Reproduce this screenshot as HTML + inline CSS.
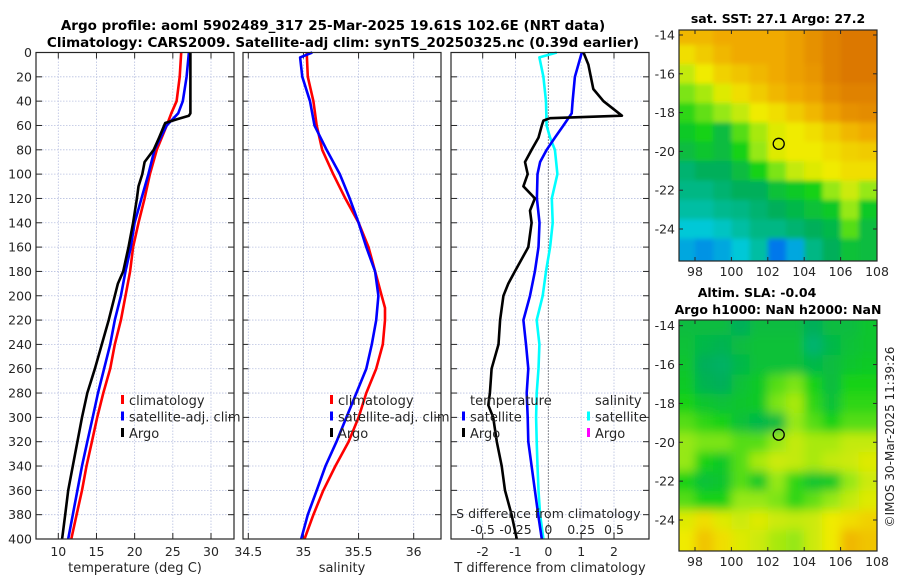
<!DOCTYPE html>
<html><head><meta charset="utf-8"><style>
html,body{margin:0;padding:0;background:#fff}
svg text{font-family:"DejaVu Sans","Liberation Sans",sans-serif;fill:#262626}
</style></head><body>
<svg id="fig" width="900" height="580" viewBox="0 0 900 580" xmlns="http://www.w3.org/2000/svg">
<defs>
<filter id="blurA" x="-5%" y="-5%" width="110%" height="110%"><feGaussianBlur stdDeviation="2.5"/></filter>
<filter id="blurB" x="-5%" y="-5%" width="110%" height="110%"><feGaussianBlur stdDeviation="5"/></filter>
</defs>
<text x="333" y="30" font-size="13.5" font-weight="bold" text-anchor="middle" style="fill:#000">Argo profile: aoml 5902489_317 25-Mar-2025 19.61S 102.6E (NRT data)</text>
<text x="343" y="47" font-size="13.5" font-weight="bold" text-anchor="middle" style="fill:#000">Climatology: CARS2009. Satellite-adj clim: synTS_20250325.nc (0.39d earlier)</text>
<text x="778" y="23" font-size="12.5" font-weight="bold" text-anchor="middle" style="fill:#000">sat. SST: 27.1 Argo: 27.2</text>
<text x="757" y="297" font-size="12.5" font-weight="bold" text-anchor="middle" style="fill:#000">Altim. SLA: -0.04</text>
<text x="778" y="314" font-size="12.5" font-weight="bold" text-anchor="middle" style="fill:#000">Argo h1000: NaN h2000: NaN</text>
<text x="0" y="0" font-size="12" text-anchor="middle" transform="translate(894,437) rotate(-90)">©IMOS 30-Mar-2025 11:39:26</text>
<g id="plots"></g>
</svg>
<script>
// ---- data ----
const depthT = [0,20,40,50,60,80,100,120,140,160,180,200,220,240,260,280,300,320,340,360,380,400];
const tempClim = [26.1,25.9,25.5,24.8,24.2,22.9,22.0,21.3,20.5,19.8,19.4,18.8,18.2,17.4,16.8,15.9,15.1,14.4,13.7,13.1,12.4,11.7];
const tempSat = [27.1,26.8,26.3,25.7,24.2,22.6,21.8,20.9,20.0,19.5,18.8,18.2,17.4,16.8,16.0,15.2,14.5,13.8,13.1,12.5,11.9,11.3];
const depthArgo = [0,50,52,55,58,70,80,90,100,110,120,140,160,180,190,200,220,240,260,280,300,320,340,360,380,400];
const tempArgo = [27.3,27.3,27.1,25.5,24.0,23.2,22.5,21.3,21.0,20.5,20.3,19.8,19.2,18.5,17.8,17.4,16.6,15.7,14.8,13.8,13.1,12.5,11.9,11.3,10.9,10.5];
const depthS = [0,20,40,60,80,100,120,140,160,180,200,210,220,240,260,280,300,320,340,360,380,400];
const salClim = [35.03,35.04,35.09,35.12,35.17,35.27,35.38,35.50,35.59,35.65,35.71,35.74,35.74,35.72,35.66,35.57,35.50,35.41,35.29,35.18,35.09,35.01];
const depthSS = [0,4,20,40,60,80,100,120,140,160,180,200,220,240,260,280,300,320,340,360,380,400];
const salSat = [35.08,34.97,34.99,35.06,35.10,35.21,35.33,35.42,35.50,35.57,35.65,35.68,35.66,35.62,35.57,35.48,35.39,35.30,35.20,35.12,35.04,34.98];
const depthD = [0,20,40,50,60,70,80,90,100,120,140,160,180,200,220,240,260,280,300,320,340,360,380,400];
const tDiffSat = [1.02,0.81,0.74,0.71,0.46,0.2,-0.05,-0.25,-0.33,-0.35,-0.27,-0.3,-0.41,-0.56,-0.76,-0.68,-0.61,-0.66,-0.63,-0.61,-0.51,-0.41,-0.31,-0.2];
const depthDS = [0,4,20,40,60,70,80,100,120,140,160,180,200,220,240,260,280,300,320,340,360,380,400];
const sDiffSat = [0.064,-0.068,-0.038,-0.018,-0.013,0.013,0.05,0.069,0.026,0.033,0.013,-0.018,-0.043,-0.089,-0.068,-0.075,-0.089,-0.093,-0.089,-0.083,-0.075,-0.063,-0.038];
const depthDA = [0,10,30,40,52,54,56,60,70,80,90,100,110,120,130,140,160,180,190,200,220,240,260,280,290,300,320,340,360,380,400];
const tDiffArgo = [1.07,1.22,1.37,1.68,2.24,0.05,-0.15,-0.2,-0.3,-0.51,-0.71,-0.63,-0.76,-0.41,-0.56,-0.51,-0.61,-1.02,-1.22,-1.37,-1.47,-1.52,-1.73,-1.78,-1.83,-1.68,-1.57,-1.42,-1.32,-1.12,-0.96];
const depthTicks = [0,20,40,60,80,100,120,140,160,180,200,220,240,260,280,300,320,340,360,380,400];
const tempTicks = [10,15,20,25,30];
const salTicks = [34.5,35,35.5,36];
const salTickLabels = ["34.5","35","35.5","36"];
const tdTicks = [-2,-1,0,1,2];
const sdTicks = [-0.5,-0.25,0,0.25,0.5];
const sdTickLabels = ["-0.5","-0.25","0","0.25","0.5"];
const latTicks = [-14,-16,-18,-20,-22,-24];
const lonTicks = [98,100,102,104,106,108];
const argoLon = 102.6, argoLat = -19.61;
const sstGrid = [
[0.78,0.78,0.8,0.8,0.8,0.8,0.82,0.85,0.88,0.9,0.9],
[0.72,0.75,0.78,0.8,0.8,0.8,0.82,0.85,0.88,0.9,0.9],
[0.65,0.7,0.74,0.76,0.78,0.8,0.82,0.84,0.88,0.9,0.9],
[0.58,0.62,0.68,0.72,0.75,0.78,0.8,0.82,0.86,0.88,0.88],
[0.52,0.56,0.6,0.65,0.7,0.72,0.75,0.78,0.82,0.85,0.86],
[0.48,0.5,0.45,0.55,0.62,0.68,0.7,0.72,0.75,0.78,0.8],
[0.45,0.47,0.45,0.5,0.6,0.68,0.7,0.7,0.72,0.74,0.75],
[0.4,0.42,0.42,0.45,0.5,0.58,0.65,0.68,0.7,0.72,0.72],
[0.38,0.38,0.4,0.42,0.42,0.46,0.48,0.5,0.6,0.66,0.6],
[0.35,0.35,0.37,0.38,0.4,0.42,0.44,0.46,0.48,0.6,0.48],
[0.3,0.3,0.32,0.35,0.38,0.38,0.4,0.42,0.44,0.55,0.45],
[0.25,0.22,0.25,0.3,0.35,0.18,0.25,0.38,0.42,0.46,0.45]];
const slaGrid = [
[0.45,0.45,0.45,0.42,0.45,0.45,0.45,0.42,0.45,0.45,0.47],
[0.46,0.44,0.43,0.45,0.46,0.46,0.46,0.4,0.44,0.46,0.47],
[0.47,0.42,0.41,0.44,0.46,0.46,0.46,0.44,0.45,0.47,0.48],
[0.48,0.43,0.42,0.46,0.48,0.55,0.58,0.5,0.45,0.5,0.5],
[0.5,0.47,0.46,0.47,0.48,0.58,0.62,0.52,0.46,0.52,0.52],
[0.55,0.52,0.5,0.46,0.44,0.45,0.6,0.55,0.5,0.55,0.55],
[0.6,0.58,0.58,0.55,0.55,0.6,0.65,0.62,0.62,0.65,0.65],
[0.6,0.5,0.48,0.55,0.62,0.66,0.65,0.62,0.65,0.66,0.68],
[0.5,0.46,0.47,0.55,0.48,0.6,0.52,0.47,0.48,0.6,0.66],
[0.55,0.5,0.5,0.6,0.6,0.58,0.52,0.56,0.6,0.65,0.68],
[0.68,0.72,0.68,0.66,0.68,0.66,0.65,0.66,0.7,0.72,0.74],
[0.7,0.76,0.72,0.68,0.66,0.62,0.6,0.66,0.7,0.78,0.76]];

// ---- helpers ----
const NS="http://www.w3.org/2000/svg";
const root=document.getElementById('plots');
function mk(tag,attrs,parent){const e=document.createElementNS(NS,tag);for(const k in attrs)e.setAttribute(k,attrs[k]);(parent||root).appendChild(e);return e;}
const yTop=52.5,yBot=539;
const yD=d=>yTop+(d/400)*(yBot-yTop);
function lin(d0,d1,r0,r1){return v=>r0+(v-d0)/(d1-d0)*(r1-r0);}
const panels=[
 {x0:36,x1:234,sc:lin(10,30,58.3,211),ticks:tempTicks,labels:tempTicks.map(String),title:'temperature (deg C)',name:'temperature'},
 {x0:243,x1:441,sc:lin(34.5,36,248.3,413.7),ticks:salTicks,labels:salTickLabels,title:'salinity',name:'salinity'},
 {x0:451,x1:649,sc:lin(-2,2,482.7,614),ticks:tdTicks,labels:tdTicks.map(String),title:'T difference from climatology',name:'difference'}];
panels.forEach((p,pi)=>{
 const g=mk('g',{});
 
 
 depthTicks.forEach(d=>{
  const l=mk('line',{x1:p.x0,x2:p.x1,y1:yD(d),y2:yD(d),stroke:'#b8c0e0','stroke-width':0.8,'stroke-dasharray':'1.5,1.5'},g);
  
  
  mk('line',{x1:p.x0,x2:p.x0+6,y1:yD(d),y2:yD(d),stroke:'#262626','stroke-width':1},g);
  mk('line',{x1:p.x1-6,x2:p.x1,y1:yD(d),y2:yD(d),stroke:'#262626','stroke-width':1},g);
 });
 p.ticks.forEach((t,i)=>{
  const x=p.sc(t);
  const l=mk('line',{x1:x,x2:x,y1:yTop,y2:yBot,stroke:'#b8c0e0','stroke-width':0.8,'stroke-dasharray':'1.5,1.5'},g);
  
  
  mk('line',{x1:x,x2:x,y1:yBot,y2:yBot-6,stroke:'#262626'},g);
  mk('line',{x1:x,x2:x,y1:yTop,y2:yTop+6,stroke:'#262626'},g);
  const tx=mk('text',{x:x,y:556,'font-size':12.5,'text-anchor':'middle'},g);
  tx.textContent=p.labels[i];
  
  
 });
 const at=mk('text',{x:(p.x0+p.x1)/2,y:572,'font-size':13,'text-anchor':'middle'},g);
 at.textContent=p.title;
 
 
});
depthTicks.forEach(d=>{
 const t=mk('text',{x:32,y:yD(d)+4.5,'font-size':12.5,'text-anchor':'end'});
 t.textContent=String(d);
 
 
});
const z=mk('line',{x1:panels[2].sc(0),x2:panels[2].sc(0),y1:yTop,y2:yBot,stroke:'#333','stroke-width':1,'stroke-dasharray':'1,2'});


function line(xs,ds,sc,color,name){
 const pts=xs.map((v,i)=>sc(v).toFixed(1)+','+yD(ds[i]).toFixed(1)).join(' ');
 const e=mk('polyline',{points:pts,fill:'none',stroke:color,'stroke-width':2.6,'stroke-linejoin':'round'});
 
 
}
const sS=v=>panels[2].sc(v*4);
line(tempClim,depthT,panels[0].sc,'#ff0000','temp-climatology-line');
line(tempSat,depthT,panels[0].sc,'#0000ff','temp-satellite-line');
line(tempArgo,depthArgo,panels[0].sc,'#000000','temp-argo-line');
line(salClim,depthS,panels[1].sc,'#ff0000','sal-climatology-line');
line(salSat,depthSS,panels[1].sc,'#0000ff','sal-satellite-line');
line(sDiffSat,depthDS,sS,'#00ffff','sdiff-satellite-line');
line(tDiffSat,depthD,panels[2].sc,'#0000ff','tdiff-satellite-line');
line(tDiffArgo,depthDA,panels[2].sc,'#000000','tdiff-argo-line');
const st=mk('text',{x:sS(0),y:518,'font-size':12.5,'text-anchor':'middle'});
st.textContent='S difference from climatology';


sdTicks.forEach((t,i)=>{
 const e=mk('text',{x:sS(t),y:534,'font-size':12.5,'text-anchor':'middle'});
 e.textContent=sdTickLabels[i];
 
 
});
panels.forEach(p=>{
 const r=mk('rect',{x:p.x0,y:yTop,width:p.x1-p.x0,height:yBot-yTop,fill:'none',stroke:'#262626','stroke-width':1.2});
 
 
});
function leg(x,y,color,label,name){
 const g=mk('g',{});
 
 
 if(color)mk('rect',{x:x-8,y:y-10,width:3,height:9,fill:color},g);
 const t=mk('text',{x:x,y:y,'font-size':13},g);t.textContent=label;
}
[[0,'#ff0000','climatology'],[1,'#0000ff','satellite-adj. clim'],[2,'#000000','Argo']].forEach(a=>{
 leg(129,405+a[0]*16.5,a[1],a[2],'temp-legend-entry');
 leg(338,405+a[0]*16.5,a[1],a[2],'sal-legend-entry');
});
leg(470,405,null,'temperature','diff-legend-heading-temp');
leg(470,421.5,'#0000ff','satellite','diff-legend-temp-satellite');
leg(470,438,'#000000','Argo','diff-legend-temp-argo');
leg(595,405,null,'salinity','diff-legend-heading-sal');
leg(595,421.5,'#00ffff','satellite','diff-legend-sal-satellite');
leg(595,438,'#ff00ff','Argo','diff-legend-sal-argo');

// ---- maps ----
const cstops=[[0,[0,0,180]],[0.15,[0,100,240]],[0.3,[0,200,215]],[0.42,[0,175,90]],[0.5,[20,210,20]],[0.6,[150,232,20]],[0.7,[240,235,0]],[0.8,[240,170,0]],[0.9,[220,120,0]],[1,[200,90,0]]];
function cmap(v){for(let i=1;i<cstops.length;i++){if(v<=cstops[i][0]){const a=cstops[i-1],b=cstops[i];const f=(v-a[0])/(b[0]-a[0]);return 'rgb('+a[1].map((c,k)=>Math.round(c+f*(b[1][k]-c))).join(',')+')';}}return 'rgb(200,90,0)';}
function drawMap(grid,top,bot,lat14y,lat24y,name,filt){
 const lonX=lin(98,108,695,877), latY=lin(-14,-24,lat14y,lat24y);
 const g=mk('g',{});
 
 
 const cp='clip-'+name;
 const cpe=mk('clipPath',{id:cp},g);mk('rect',{x:679,y:top,width:198,height:bot-top},cpe);
 const outer=mk('g',{'clip-path':'url(#'+cp+')'},g);
 const cg=mk('g',{filter:'url(#'+filt+')'},outer);
 grid.forEach((row,ri)=>row.forEach((v,ci)=>{
  let x0=lonX(97+ci), x1=lonX(98+ci), y0=latY(-13.5-ri), y1=latY(-14.5-ri);
  if(ci===0)x0-=12; if(ci===row.length-1)x1+=12; if(ri===0)y0-=12; if(ri===grid.length-1)y1+=12;
  const r=mk('rect',{x:x0,y:y0,width:x1-x0+0.5,height:y1-y0+0.5,fill:cmap(v)},cg);
  
  
 }));
 mk('rect',{x:679,y:top,width:198,height:bot-top,fill:'none',stroke:'#262626','stroke-width':1.2},g);
 const c=mk('circle',{cx:lonX(argoLon),cy:latY(argoLat),r:5.5,fill:'none',stroke:'#000','stroke-width':1.3},g);
 
 
 latTicks.forEach(t=>{
  const y=latY(t);
  mk('line',{x1:679,x2:683,y1:y,y2:y,stroke:'#262626'},g);
  mk('line',{x1:873,x2:877,y1:y,y2:y,stroke:'#262626'},g);
  const e=mk('text',{x:675,y:y+4.5,'font-size':12.5,'text-anchor':'end'},g);
  e.textContent=String(t);
  
  
 });
 lonTicks.forEach(t=>{
  const x=lonX(t);
  mk('line',{x1:x,x2:x,y1:bot,y2:bot-4,stroke:'#262626'},g);
  mk('line',{x1:x,x2:x,y1:top,y2:top+4,stroke:'#262626'},g);
  const e=mk('text',{x:x,y:bot+15,'font-size':12.5,'text-anchor':'middle'},g);
  e.textContent=String(t);
  
  
 });
}
drawMap(sstGrid,30,261,35,229,'sst-map','blurA');
drawMap(slaGrid,320,551,325.7,520,'sla-map','blurB');
</script>
</body></html>
